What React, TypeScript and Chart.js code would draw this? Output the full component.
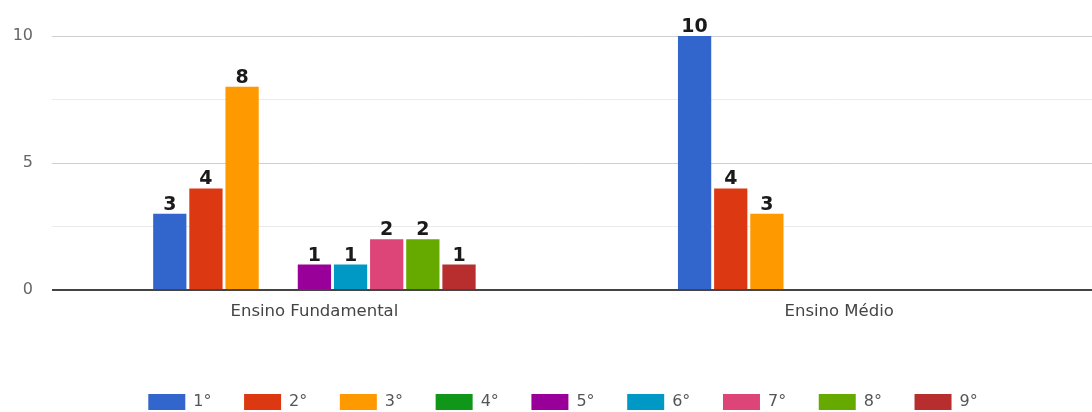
import React, { useEffect, useRef } from 'react';
import { Chart, registerables } from 'chart.js';

Chart.register(...registerables);

const categories = ['Ensino Fundamental', 'Ensino Médio'];
const seriesLabels = ['1°', '2°', '3°', '4°', '5°', '6°', '7°', '8°', '9°'];
const fundamentalValues = [3, 4, 8, 0, 1, 1, 2, 2, 1];
const medioValues = [10, 4, 3, 0, 0, 0, 0, 0, 0];
const seriesColors = ['#3366cc', '#dc3912', '#ff9900', '#109618', '#990099', '#0099c6', '#dd4477', '#66aa00', '#b82e2e'];
const yMin = 0;
const yMax = 10;
const yStep = 2.5;
const yLabelEvery = 5;

const W = 1126;
const H = 420;

const valueLabels = {
  id: 'valueLabels',
  afterDatasetsDraw(chart: any) {
    const ctx = chart.ctx;
    ctx.save();
    ctx.font = 'bold 19px "DejaVu Sans"';
    ctx.fillStyle = '#1a1a1a';
    ctx.textAlign = 'center';
    ctx.textBaseline = 'alphabetic';
    chart.data.datasets.forEach((ds: any, di: number) => {
      const meta = chart.getDatasetMeta(di);
      meta.data.forEach((bar: any, i: number) => {
        const v = ds.data[i];
        if (!v) return;
        ctx.fillText(String(v), bar.x, bar.y - 4);
      });
    });
    ctx.restore();
  },
};

export default function App() {
  const ref = useRef<HTMLCanvasElement>(null);

  useEffect(() => {
    document.body.style.overflow = 'hidden';
    document.documentElement.style.overflow = 'hidden';
    if (!ref.current) return;
    Chart.defaults.font.family = '"DejaVu Sans", sans-serif';
    const chart = new Chart(ref.current, {
      type: 'bar',
      data: {
        labels: categories,
        datasets: seriesLabels.map((label, i) => ({
          label,
          data: [fundamentalValues[i], medioValues[i]],
          backgroundColor: seriesColors[i],
          borderWidth: 0,
          categoryPercentage: 0.62,
          barPercentage: 0.92,
        })),
      },
      options: {
        responsive: false,
        animation: false,
        devicePixelRatio: 1,
        layout: { padding: { top: 36, left: 0, right: 0, bottom: 0 } },
        plugins: {
          tooltip: { enabled: false },
          legend: {
            position: 'bottom',
            align: 'center',
            labels: {
              boxWidth: 37,
              boxHeight: 16,
              padding: 32.6,
              color: '#555',
              font: { size: 16 },
            },
          },
        },
        scales: {
          x: {
            grid: { display: false },
            border: { display: false },
            ticks: { color: '#444', font: { size: 16.5 }, padding: 4 },
            afterFit: (s: any) => { s.height = 71.4; },
          },
          y: {
            min: yMin,
            max: yMax,
            border: { display: false },
            grid: {
              drawTicks: false,
              color: (c: any) => (c.tick.value === 0 ? '#444' : c.tick.value % yLabelEvery === 0 ? '#cfcfcf' : '#ebebeb'),
              lineWidth: (c: any) => (c.tick.value === 0 ? 2 : 1),
            },
            ticks: {
              stepSize: yStep,
              padding: 19,
              color: '#666',
              font: { size: 16 },
              callback: (v: any) => (Number(v) % yLabelEvery === 0 ? String(v) : ''),
            },
            afterFit: (s: any) => { s.width = 52; },
          },
          y2: {
            type: 'linear',
            position: 'right',
            display: true,
            grid: { display: false },
            border: { display: false },
            ticks: { display: false },
            afterFit: (s: any) => { s.width = 24.4; },
          },
        },
      },
      plugins: [valueLabels],
    });
    return () => chart.destroy();
  }, []);

  return (
    <div style={{ position: 'fixed', left: 0, top: 0, width: W, height: H, background: '#fff' }}>
      <canvas ref={ref} width={W} height={H} />
    </div>
  );
}
